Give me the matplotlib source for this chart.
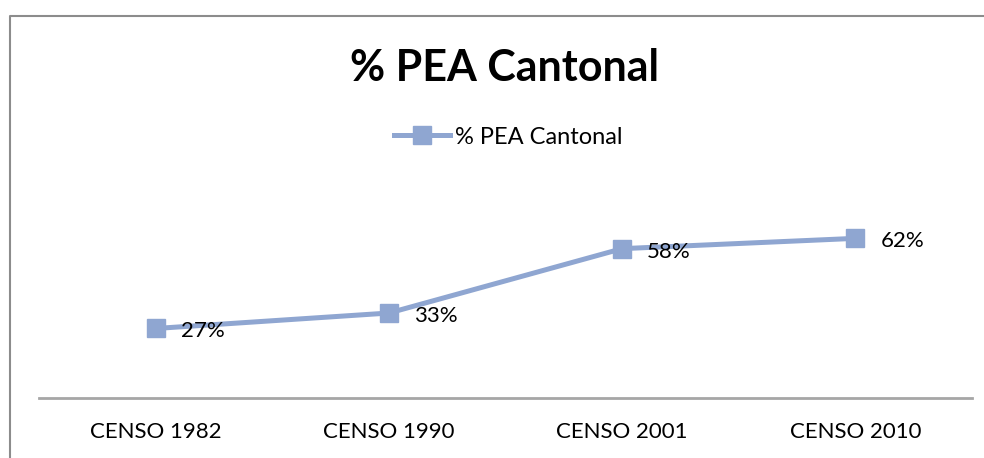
import matplotlib.pyplot as plt
from matplotlib.lines import Line2D

# datos del grafico
censos = ["CENSO 1982", "CENSO 1990", "CENSO 2001", "CENSO 2010"]
pea = [0.27, 0.33, 0.58, 0.62]
etiquetas = ["27%", "33%", "58%", "62%"]
serie = "% PEA Cantonal"

plt.rcParams['font.family'] = ['Lato', 'DejaVu Sans']

color_linea = "#8FA6D1"
W, H = 984, 458

fig = plt.figure(figsize=(W / 100, H / 100), dpi=100)

# marco del grafico: solo borde superior e izquierdo (el resto queda cortado)
borde_x = 9.5 / W
borde_y = 1 - 15.5 / H
fig.lines.append(Line2D([borde_x, borde_x, 1.0], [0.0, borde_y, borde_y],
                        transform=fig.transFigure, color="#8c8c8c", linewidth=1.5))

ax = fig.add_axes([39 / W, 60 / H, (972 - 39) / W, 206 / H])
x = list(range(len(censos)))
ax.plot(x, pea, color=color_linea, linewidth=3.6, marker="s", markersize=13.5,
        markerfacecolor=color_linea, markeredgecolor=color_linea, label=serie)

for xi, v, t in zip(x, pea, etiquetas):
    ax.annotate(t, (xi, v), xytext=(25, -3), textcoords="offset pixels",
                ha="left", va="center", fontsize=16, color="black")

ax.set_xlim(-0.5, 3.5)
ax.set_ylim(0, 0.8)
ax.set_xticks(x)
ax.set_xticklabels(censos, fontsize=16)
ax.set_yticks([])
ax.tick_params(axis="x", length=0, pad=17)
for lado in ["top", "right", "left"]:
    ax.spines[lado].set_visible(False)
ax.spines["bottom"].set_color("#a6a6a6")
ax.spines["bottom"].set_linewidth(2)
ax.patch.set_visible(False)

fig.text(505 / W, 1 - 68 / H, serie, ha="center", va="center",
         fontsize=31, fontweight="bold")

leg = fig.legend(loc="center", bbox_to_anchor=(508 / W, 1 - 137 / H), frameon=False,
                 fontsize=17, handlelength=2.4, handletextpad=0.2, borderpad=0)

fig.savefig("out.png", dpi=100)
